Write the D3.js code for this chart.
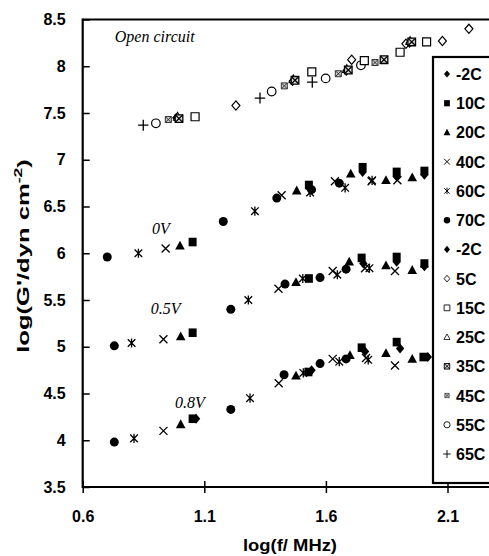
<!DOCTYPE html>
<html><head><meta charset="utf-8">
<script src="https://cdn.jsdelivr.net/npm/d3@7"></script>
<style>body{margin:0;background:#fff} svg{display:block}</style>
</head><body>
<svg id="c" width="489" height="556"></svg>
<script>
// ---------- data ----------
const xTicks = [0.6, 1.1, 1.6, 2.1];
const xMinor = [0.7,0.8,0.9,1.0,1.2,1.3,1.4,1.5,1.7,1.8,1.9,2.0,2.2,2.3];
const yTicks = [3.5,4,4.5,5,5.5,6,6.5,7,7.5,8,8.5];
const legendLabels = ["-2C","10C","20C","40C","60C","70C","-2C","5C","15C","25C","35C","45C","55C","65C"];
const legendKeys   = ["-2C","10C","20C","40C","60C","70C","-2Co","5C","15C","25C","35C","45C","55C","65C"];

// [series key, log f, log G']
const openCircuit = [
  ["65C",0.849,7.37],["55C",0.901,7.39],["45C",0.952,7.43],["-2Co",0.985,7.45],["25C",0.99,7.46],["35C",0.996,7.44],["15C",1.062,7.46],
  ["5C",1.230,7.58],["65C",1.329,7.66],["55C",1.377,7.73],["45C",1.429,7.79],["-2Co",1.463,7.84],["25C",1.466,7.86],["35C",1.473,7.85],
  ["15C",1.542,7.94],["65C",1.544,7.83],["55C",1.599,7.87],["45C",1.651,7.92],["-2Co",1.684,7.95],["25C",1.686,7.97],["35C",1.692,7.96],
  ["5C",1.706,8.07],["55C",1.744,8.01],["15C",1.758,8.06],["45C",1.802,8.04],["35C",1.839,8.07],["15C",1.905,8.15],
  ["5C",1.929,8.24],["-2Co",1.944,8.25],["25C",1.946,8.27],["35C",1.953,8.26],["15C",2.014,8.26],["5C",2.079,8.27],["5C",2.188,8.40]
];
const v0 = [
  ["70C",0.701,5.96],["60C",0.829,6.00],["40C",0.941,6.05],["20C",1.000,6.08],["10C",1.052,6.12],
  ["70C",1.178,6.34],["60C",1.308,6.45],["70C",1.398,6.59],["40C",1.418,6.62],["20C",1.480,6.67],
  ["60C",1.535,6.65],["10C",1.530,6.73],["70C",1.541,6.68],["40C",1.637,6.77],["70C",1.655,6.75],["60C",1.679,6.70],
  ["20C",1.702,6.85],["-2C",1.751,6.87],["10C",1.751,6.92],["40C",1.788,6.77],["60C",1.790,6.78],["20C",1.847,6.78],
  ["40C",1.894,6.78],["-2C",1.891,6.82],["10C",1.891,6.87],["20C",1.955,6.81],["-2C",2.005,6.84],["10C",2.005,6.88]
];
const v05 = [
  ["70C",0.730,5.01],["60C",0.801,5.04],["40C",0.932,5.08],["20C",1.003,5.11],["10C",1.052,5.15],
  ["70C",1.209,5.40],["60C",1.281,5.50],["40C",1.405,5.62],["70C",1.432,5.67],["20C",1.477,5.69],
  ["60C",1.505,5.73],["10C",1.530,5.73],["70C",1.576,5.74],["40C",1.628,5.81],["60C",1.647,5.77],["70C",1.683,5.83],
  ["20C",1.696,5.91],["-2C",1.754,5.89],["10C",1.747,5.95],["40C",1.761,5.84],["60C",1.779,5.84],["20C",1.847,5.87],
  ["40C",1.884,5.81],["-2C",1.891,5.91],["10C",1.891,5.96],["20C",1.955,5.82],["-2C",2.005,5.86],["10C",2.005,5.89]
];
const v08 = [
  ["70C",0.730,3.98],["60C",0.811,4.02],["40C",0.932,4.10],["20C",1.003,4.17],["-2C",1.066,4.23],["10C",1.052,4.23],
  ["70C",1.209,4.33],["60C",1.288,4.45],["40C",1.406,4.61],["70C",1.428,4.70],["20C",1.477,4.69],
  ["60C",1.507,4.72],["-2C",1.541,4.75],["10C",1.528,4.73],["70C",1.576,4.82],["40C",1.628,4.87],["60C",1.655,4.84],
  ["70C",1.683,4.87],["20C",1.699,4.91],["-2C",1.761,4.95],["10C",1.747,4.99],["40C",1.765,4.88],["60C",1.774,4.86],
  ["20C",1.847,4.93],["-2C",1.905,4.98],["10C",1.891,5.05],["40C",1.884,4.80],["20C",1.955,4.87],["-2C",2.019,4.89],["10C",2.001,4.89]
];
const annotations = [
  ["Open circuit",0.732,8.26],
  ["0V",0.885,6.21],
  ["0.5V",0.88,5.35],
  ["0.8V",0.98,4.35]
];

// ---------- layout ----------
const svg = d3.select("#c");
const x = d3.scaleLinear().domain([0.6, 2.35]).range([82.7, 82.7 + 1.75 * 243.2]);
const y = d3.scaleLinear().domain([3.5, 8.5]).range([487, 19.5]);
const FONT = "'Liberation Sans', Arial, sans-serif";

function drawMarker(g, key, k) {
  const s = k || 1;
  const add = (d, fill, stroke, sw) => g.append("path").attr("d", d)
      .attr("fill", fill).attr("stroke", stroke || "none").attr("stroke-width", sw || 0)
      .attr("transform", `scale(${s})`);
  const diamond = "M0,-5L4.2,0L0,5L-4.2,0Z";
  const square = "M-4,-4.3H4V4.3H-4Z";
  const tri = "M0,-5L4.8,3.8L-4.8,3.8Z";
  const circ = "M4.5,0A4.5,4.5 0 1,1 -4.5,0A4.5,4.5 0 1,1 4.5,0Z";
  switch (key) {
    case "-2C": case "-2Co": add(diamond, "#000"); break;
    case "10C": add(square, "#000"); break;
    case "20C": add(tri, "#000"); break;
    case "40C": add("M-4,-4L4,4M-4,4L4,-4", "none", "#000", 1.3); break;
    case "60C": add("M-3.8,-3.8L3.8,3.8M-3.8,3.8L3.8,-3.8M0,-4.6V4.6", "none", "#000", 1.3); break;
    case "70C": add(circ, "#000"); break;
    case "5C": add("M0,-4.6L4,0L0,4.6L-4,0Z", "#fff", "#000", 1.2); break;
    case "15C": add("M-4,-4H4V4H-4Z", "#fff", "#000", 1.2); break;
    case "25C": add("M0,-4.4L4.2,3.4L-4.2,3.4Z", "#fff", "#000", 1.1); break;
    case "35C": add("M-3.8,-3.8H3.8V3.8H-3.8Z", "#ddd", "#000", 1.3);
                add("M-3.8,-3.8L3.8,3.8M-3.8,3.8L3.8,-3.8", "none", "#000", 1.3); break;
    case "45C": add("M-3,-3H3V3H-3Z", "#ccc", "#333", 1);
                add("M-3,-3L3,3M-3,3L3,-3", "none", "#333", 1); break;
    case "55C": add("M4.3,0A4.3,4.3 0 1,1 -4.3,0A4.3,4.3 0 1,1 4.3,0Z", "#fff", "#000", 1.2); break;
    case "65C": add("M-5.2,0H5.2M0,-5.5V5.5", "none", "#000", 1.3); break;
  }
}

// axes
const gx = svg.append("g").attr("transform", `translate(0,${y(3.5)})`);
gx.call(d3.axisBottom(x).tickValues(xMinor).tickSize(-5).tickFormat(""))
  .call(g => g.select(".domain").remove());
gx.call(d3.axisBottom(x).tickValues(xTicks).tickSize(6).tickPadding(18).tickFormat(d3.format(".1f")))
  .call(g => g.select(".domain").remove());
gx.selectAll(".tick").each(function(d){ if (xTicks.includes(d)) d3.select(this).append("line").attr("y2",-6); });
gx.selectAll("line").attr("stroke", "#000").attr("stroke-width", 1.5);
gx.selectAll("text").attr("font-family", FONT).attr("font-weight", "bold").attr("font-size", 16).attr("fill", "#000");

const gy = svg.append("g").attr("transform", `translate(${x(0.6)},0)`);
gy.call(d3.axisLeft(y).tickValues(yTicks).tickSize(-7).tickPadding(17).tickFormat(d3.format("~g")))
  .call(g => g.select(".domain").remove());
gy.selectAll("line").attr("stroke", "#000").attr("stroke-width", 1.5);
gy.selectAll("text").attr("font-family", FONT).attr("font-weight", "bold").attr("font-size", 16).attr("fill", "#000");

// frame lines
svg.append("line").attr("x1", x(0.6)).attr("x2", x(2.35)).attr("y1", y(3.5)).attr("y2", y(3.5)).attr("stroke", "#000").attr("stroke-width", 2.2);
svg.append("line").attr("x1", x(0.6)).attr("x2", x(2.35)).attr("y1", y(8.5)).attr("y2", y(8.5)).attr("stroke", "#000").attr("stroke-width", 2.2);
svg.append("line").attr("x1", x(0.6)).attr("x2", x(0.6)).attr("y1", y(8.5) - 1).attr("y2", y(3.5) + 1).attr("stroke", "#000").attr("stroke-width", 2.2);

// axis titles
svg.append("text").attr("x", 290).attr("y", 551).attr("text-anchor", "middle")
  .attr("font-family", FONT).attr("font-weight", "bold").attr("font-size", 17)
  .attr("textLength", 94).attr("lengthAdjust", "spacingAndGlyphs").text("log(f/ MHz)");
const yt = svg.append("text").attr("transform", "translate(29,256) rotate(-90) scale(1.6,1)").attr("text-anchor", "middle")
  .attr("font-family", FONT).attr("font-weight", "bold").attr("font-size", 16);
yt.append("tspan").text("log(G'/dyn cm");
yt.append("tspan").attr("font-size", 11).attr("dy", -7).text("-2");
yt.append("tspan").attr("dy", 7).text(")");

// annotations
svg.selectAll("text.ann").data(annotations).join("text").attr("class", "ann")
  .attr("x", d => x(d[1])).attr("y", d => y(d[2]))
  .attr("font-family", "'Liberation Serif', 'Times New Roman', serif").attr("font-style", "italic").attr("font-size", 16)
  .text(d => d[0]);

// points
const allPts = [...openCircuit, ...v0, ...v05, ...v08];
svg.append("g").selectAll("g").data(allPts).join("g")
  .attr("transform", d => `translate(${x(d[1])},${y(d[2])})`)
  .each(function(d){ drawMarker(d3.select(this), d[0], 1); });

// legend
const lg = svg.append("g");
lg.append("rect").attr("x", 433).attr("y", 57).attr("width", 80).attr("height", 426)
  .attr("fill", "#fff").attr("stroke", "#000").attr("stroke-width", 2.2);
const ly = d3.scalePoint().domain(d3.range(legendLabels.length)).range([74, 454]);
legendLabels.forEach((lab, i) => {
  const g = lg.append("g").attr("transform", `translate(447,${ly(i)})`);
  drawMarker(g, legendKeys[i], 0.72);
  lg.append("text").attr("x", 456).attr("y", ly(i) + 6).attr("font-family", FONT)
    .attr("font-weight", "bold").attr("font-size", 16).text(lab);
});
</script>
</body></html>
